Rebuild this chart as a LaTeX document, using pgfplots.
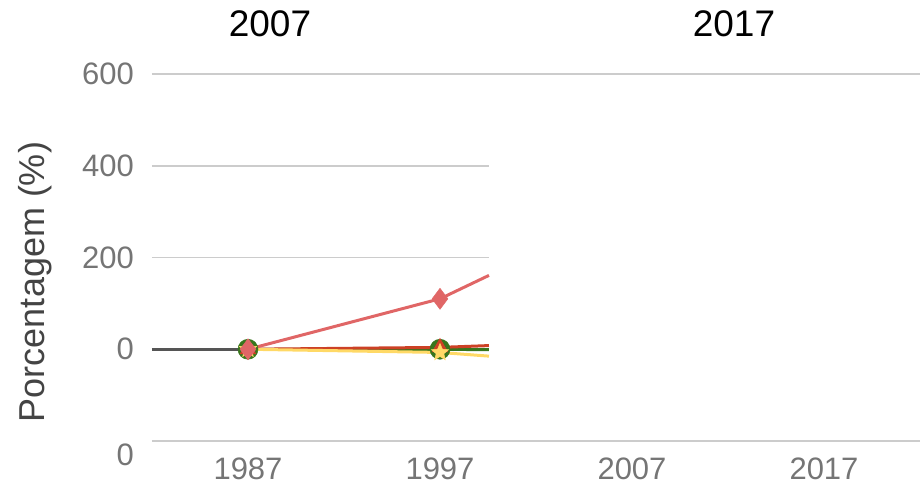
\documentclass[border=0pt]{standalone}
\usepackage{pgfplots}
\pgfplotsset{compat=1.18}
\usepackage{fontspec}
\setmainfont{Liberation Sans}
\definecolor{pinkc}{HTML}{E06666}
\definecolor{redc}{HTML}{CC4125}
\definecolor{greenc}{HTML}{38761D}
\definecolor{yellowc}{HTML}{FFD966}
\definecolor{gridc}{HTML}{CCCCCC}
\definecolor{tickc}{HTML}{757575}
\definecolor{labc}{HTML}{444444}
\definecolor{basec}{HTML}{555555}
\pgfdeclareplotmark{fstar}{%
  \pgfpathmoveto{\pgfqpointpolar{90}{\pgfplotmarksize}}%
  \pgfpathlineto{\pgfqpointpolar{126}{0.45\pgfplotmarksize}}%
  \pgfpathlineto{\pgfqpointpolar{162}{\pgfplotmarksize}}%
  \pgfpathlineto{\pgfqpointpolar{198}{0.45\pgfplotmarksize}}%
  \pgfpathlineto{\pgfqpointpolar{234}{\pgfplotmarksize}}%
  \pgfpathlineto{\pgfqpointpolar{270}{0.45\pgfplotmarksize}}%
  \pgfpathlineto{\pgfqpointpolar{306}{\pgfplotmarksize}}%
  \pgfpathlineto{\pgfqpointpolar{342}{0.45\pgfplotmarksize}}%
  \pgfpathlineto{\pgfqpointpolar{18}{\pgfplotmarksize}}%
  \pgfpathlineto{\pgfqpointpolar{54}{0.45\pgfplotmarksize}}%
  \pgfpathclose
  \pgfusepathqfillstroke}
\begin{document}
\begin{tikzpicture}
\begin{axis}[
  at={(0pt,0pt)}, anchor=south west,
  scale only axis, width=768pt, height=367pt,
  xmin=1982, xmax=2022, ymin=-200, ymax=600,
  axis line style={draw=none},
  major tick length=0pt,
  xtick={1987,1997,2007,2017},
  xticklabels={1987,1997,2007,2017},
  ytick={0,200,400,600},
  yticklabels={0,200,400,600},
  extra y ticks={-200,600},
  extra y tick labels={0,{}},
  extra y tick style={ymajorgrids=true, major grid style={draw=gridc, line width=1.5pt}, yticklabel style={yshift=-14pt}},
  ticklabel style={font=\fontsize{31}{31}\selectfont, text=tickc, inner sep=0pt},
  yticklabel style={xshift=-18pt},
  xticklabel style={yshift=-17pt},
  clip=false,
]
% partial gridlines (revealed part)
\addplot[draw=gridc, line width=1.5pt, forget plot] coordinates {(1982,200) (1999.55,200)};
\addplot[draw=gridc, line width=1.5pt, forget plot] coordinates {(1982,400) (1999.55,400)};
% zero baseline
\addplot[draw=basec, line width=2.5pt, forget plot] coordinates {(1982,0) (1999.55,0)};
% series
\addplot[draw=greenc, line width=3pt, mark=*, mark size=10pt, mark indices={1,2},
  mark options={fill=greenc, draw=greenc, line width=0.5pt}]
  coordinates {(1987,0) (1997,0) (1999.55,-1)};
\addplot[draw=redc, line width=3pt, mark=triangle*, mark size=9pt, mark indices={1,2},
  mark options={fill=redc, draw=redc, line width=0.5pt}]
  coordinates {(1987,0) (1997,4) (1999.55,8)};
\addplot[draw=yellowc, line width=3pt, mark=fstar, mark size=9pt, mark indices={1,2},
  mark options={fill=yellowc, draw=yellowc, line width=0.5pt}]
  coordinates {(1987,0) (1997,-7) (1999.55,-15)};
\addplot[draw=pinkc, line width=3pt, mark=diamond*, mark size=10.5pt, mark indices={1,2},
  mark options={fill=pinkc, draw=pinkc, line width=0.5pt}]
  coordinates {(1987,0) (1997,110) (1999.55,161)};
\end{axis}
\node[rotate=90, anchor=base, text=labc, font=\fontsize{36}{36}\selectfont] at (-107pt,159pt) {Porcentagem (\%)};
\node[anchor=base, font=\fontsize{37}{37}\selectfont] at (118pt,404pt) {2007};
\node[anchor=base, font=\fontsize{37}{37}\selectfont] at (582pt,404pt) {2017};
\pgfresetboundingbox
\path (-152pt,-44pt) rectangle (769pt,441pt);
\end{tikzpicture}
\end{document}
